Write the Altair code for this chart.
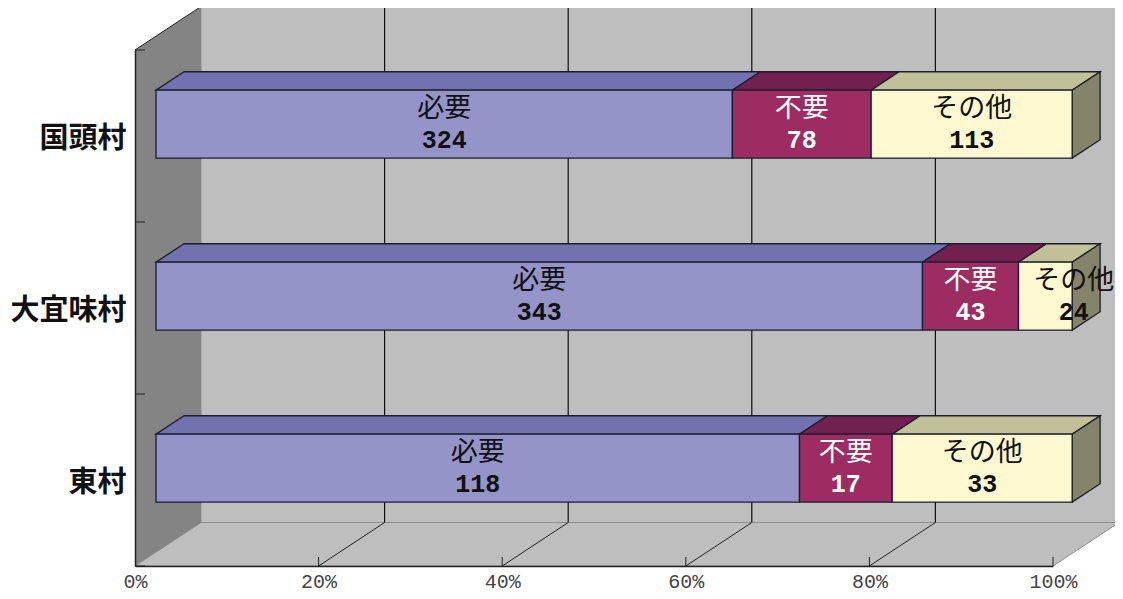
import altair as alt
import pandas as pd

# ---- values
villages = ["東村", "大宜味村", "国頭村"]          # bottom to top
responses = ["必要", "不要", "その他"]
counts = {
    "必要": [118, 343, 324],
    "不要": [17, 43, 78],
    "その他": [33, 24, 113],
}
pct_ticks = [0, 20, 40, 60, 80, 100]

front_fill = {"必要": "#9494c8", "不要": "#9c2c62", "その他": "#fdf8cf"}
top_fill = {"必要": "#7272b0", "不要": "#722050", "その他": "#c2c098"}
side_fill = "#84846a"
text_fill = {"必要": "#111111", "不要": "#ffffff", "その他": "#111111"}
# label nudged sideways (percent points): (village, response) -> shift
label_shift = {("大宜味村", "その他"): 3.1}

# ---- oblique projection of the depth axis, in data units
FONT = "Noto Sans CJK JP"
MONO = "Liberation Mono"
W, H = 918, 516
DEPTH_X = 66 / W * 100
DEPTH_Y = 43.5 / (H / 3)
BAR_D0, BAR_D1 = 0.318, 0.742
BAR_BASE, BAR_H = 0.291, 0.395
BAR_SPAN = 0.998


def px(p, d=0.0):
    return p + d * DEPTH_X


def ly(level, d=0.0):
    return level + d * DEPTH_Y


label_expr = "[" + ",".join(f"'{v}'" for v in villages) + "][floor(datum.value)]"
x_axis = alt.Axis(
    values=pct_ticks, labelExpr="datum.value + '%'", title=None, grid=False, ticks=False,
    domainColor="#222222", domainWidth=1.5, labelFont=MONO, labelFontSize=20,
    labelColor="#444444", labelPadding=5, labelFlush=False, labelOverlap=False, zindex=1)
y_axis = alt.Axis(
    values=[0.5, 1.5, 2.5], labelExpr=label_expr, title=None, grid=False, ticks=False,
    domainColor="#222222", domainWidth=1.5, labelFont=FONT, labelFontSize=29,
    labelFontWeight="bold", labelColor="#111111", labelPadding=9, labelOverlap=False,
    labelBound=False, labelFlush=False, labelOffset=2, zindex=1)

xs = alt.Scale(domain=[0, 100], nice=False, zero=False)
ys = alt.Scale(domain=[0, 3], nice=False, zero=False)
X = lambda f="x", **k: alt.X(f + ":Q", scale=xs, axis=x_axis, **k)
Y = lambda f="y", **k: alt.Y(f + ":Q", scale=ys, axis=y_axis, **k)
C = alt.Color("fill:N", scale=None, legend=None)

# ---- walls and floor
top3 = len(villages)
floor = pd.DataFrame([
    {"y": ly(0, 0), "x": px(0, 0), "x2": px(100, 0), "face": "floor", "fill": "#bebebe"},
    {"y": ly(0, 1), "x": px(0, 1), "x2": px(100, 1), "face": "floor", "fill": "#bebebe"},
])
wall = pd.DataFrame([
    {"x": px(0, 0), "y": ly(0, 0), "y2": ly(top3, 0), "fill": "#848484"},
    {"x": px(0, 1), "y": ly(0, 1), "y2": ly(top3, 1), "fill": "#848484"},
])
back = pd.DataFrame([{"x": px(0, 1), "x2": px(100, 1), "y": ly(0, 1), "y2": ly(top3, 1)}])
slant = pd.DataFrame([
    {"x": px(0, 0), "y": ly(top3, 0)},
    {"x": px(0, 1), "y": ly(top3, 1)},
])

floor_layer = alt.Chart(floor).mark_area(orient="horizontal", stroke="#8f8f8f", strokeWidth=1).encode(
    y=Y(), x=X(), x2="x2:Q", color=C, detail="face:N")
wall_layer = alt.Chart(wall).mark_area(orient="vertical").encode(
    x=X(), y=Y(), y2="y2:Q", color=C)
back_layer = alt.Chart(back).mark_rect(fill="#bebebe", stroke="#8f8f8f", strokeWidth=1).encode(
    x=X(), x2="x2:Q", y=Y(), y2="y2:Q")
slant_layer = alt.Chart(slant).mark_line(color="#222222", strokeWidth=1).encode(x=X(), y=Y())

# ---- gridlines: back wall, floor diagonals, small ticks
inner = [t for t in pct_ticks if 0 < t < 100]
grid = pd.DataFrame([{"x": px(t, 1), "y": ly(0, 1), "y2": ly(top3, 1)} for t in inner])
grid_layer = alt.Chart(grid).mark_rule(color="#111111", strokeWidth=1.2).encode(
    x=X(), y=Y(), y2="y2:Q")
diag = pd.DataFrame(
    [{"x": px(t, d), "y": ly(0, d), "t": t} for t in inner for d in (0, 1)]
)
diag_layer = alt.Chart(diag).mark_line(color="#222222", strokeWidth=1).encode(
    x=X(), y=Y(), detail="t:N")
xtick = pd.DataFrame([{"x": t, "y": 0, "y2": 9 / (H / 3)} for t in pct_ticks[1:]])
xtick_layer = alt.Chart(xtick).mark_rule(color="#222222", strokeWidth=1).encode(
    x=X(), y=Y(), y2="y2:Q")
ytick = pd.DataFrame([{"y": i, "x": 0, "x2": 10 / W * 100} for i in range(top3 + 1)])
ytick_layer = alt.Chart(ytick).mark_rule(color="#222222", strokeWidth=1).encode(
    y=Y(), x=X(), x2="x2:Q")

# ---- bars
fronts, tops, sides, labels = [], [], [], []
for i, v in enumerate(villages):
    total = sum(counts[r][i] for r in responses)
    left = 0.0
    b0 = i + BAR_BASE
    b1 = b0 + BAR_H
    for r in responses:
        n = counts[r][i]
        a = left
        e = left + n / total * 100 * BAR_SPAN
        left = e
        fronts.append({"x": px(a, BAR_D0), "x2": px(e, BAR_D0), "y": ly(b0, BAR_D0),
                       "y2": ly(b1, BAR_D0), "fill": front_fill[r]})
        face = f"{v}-{r}"
        for d in (BAR_D0, BAR_D1):
            tops.append({"y": ly(b1, d), "x": px(a, d), "x2": px(e, d),
                         "face": face, "fill": top_fill[r]})
        mid = (a + e) / 2 + label_shift.get((v, r), 0)
        labels.append({"x": px(mid, BAR_D0), "y": ly((b0 + b1) / 2, BAR_D0), "name": r,
                       "n": str(n), "tc": text_fill[r]})
    for d in (BAR_D0, BAR_D1):
        sides.append({"x": px(left, d), "y": ly(b0, d), "y2": ly(b1, d),
                      "face": v, "fill": side_fill})

BAR_STROKE = "#1c1c2c"
top_layer = alt.Chart(pd.DataFrame(tops)).mark_area(
    orient="horizontal", stroke=BAR_STROKE, strokeWidth=1.3).encode(
    y=Y(), x=X(), x2="x2:Q", color=C, detail="face:N")
side_layer = alt.Chart(pd.DataFrame(sides)).mark_area(
    orient="vertical", stroke=BAR_STROKE, strokeWidth=1.3).encode(
    x=X(), y=Y(), y2="y2:Q", color=C, detail="face:N")
front_layer = alt.Chart(pd.DataFrame(fronts)).mark_rect(
    stroke=BAR_STROKE, strokeWidth=1.3).encode(
    x=X(), x2="x2:Q", y=Y(), y2="y2:Q", color=C)

lab = pd.DataFrame(labels)
TC = alt.Color("tc:N", scale=None, legend=None)
name_layer = alt.Chart(lab).mark_text(font=FONT, fontSize=27, dy=-15).encode(
    x=X(), y=Y(), text="name:N", color=TC)
num_layer = alt.Chart(lab).mark_text(font=MONO, fontSize=25, fontWeight="bold", dy=16).encode(
    x=X(), y=Y(), text="n:N", color=TC)

chart = alt.layer(
    back_layer, floor_layer, wall_layer, slant_layer, grid_layer, diag_layer,
    xtick_layer, ytick_layer, top_layer, side_layer, front_layer,
    name_layer, num_layer,
).properties(
    width=W, height=H,
    padding={"left": 127, "top": 42, "right": 62, "bottom": 27},
    autosize=alt.AutoSizeParams(type="none"),
    background="#ffffff",
).configure_view(stroke=None)

chart.save("out.html", embed_options={"renderer": "svg", "actions": False})
